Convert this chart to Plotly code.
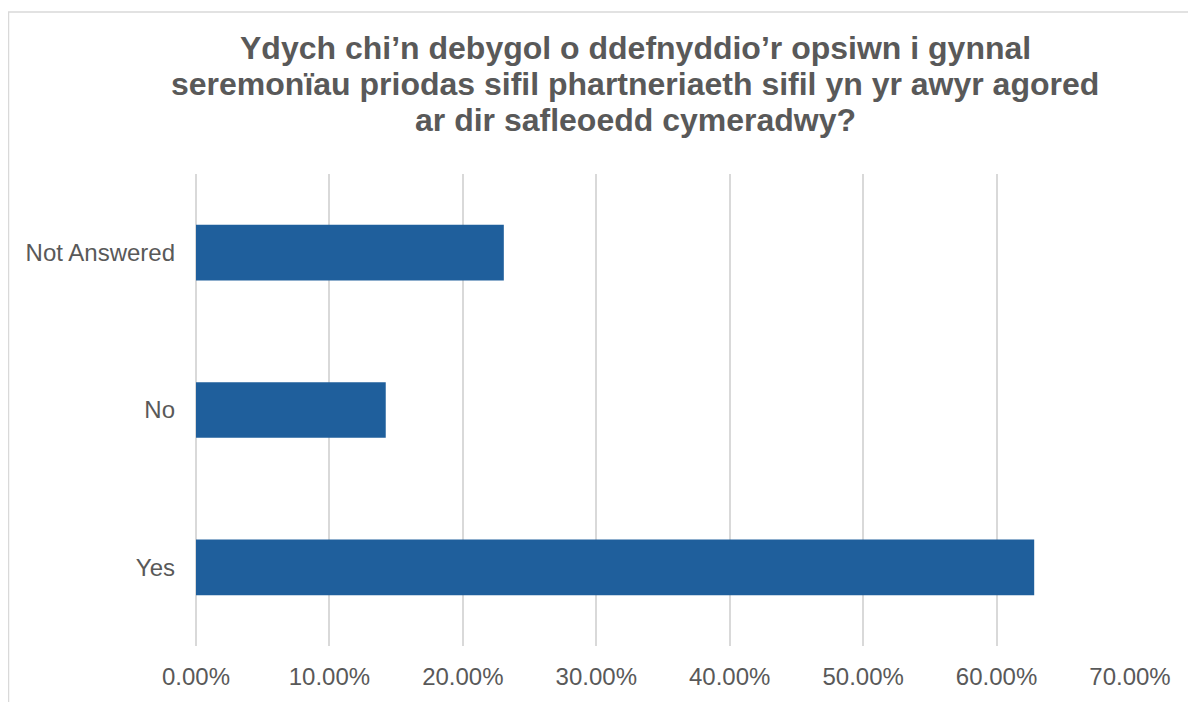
import plotly.graph_objects as go

categories = ["Yes", "No", "Not Answered"]
values = [0.6282, 0.1422, 0.2307]
x_ticks = [0, 0.1, 0.2, 0.3, 0.4, 0.5, 0.6, 0.7]
x_tick_labels = ["0.00%", "10.00%", "20.00%", "30.00%", "40.00%", "50.00%", "60.00%", "70.00%"]
title_lines = [
    "Ydych chi\u2019n debygol o ddefnyddio\u2019r opsiwn i gynnal",
    "seremon\u00efau priodas sifil phartneriaeth sifil yn yr awyr agored",
    "ar dir safleoedd cymeradwy?",
]

# page has an 8px body margin; positions below are in figure pixels
W, H = 1188, 694
L, R, T, B = 188, 1122, 166, 641  # plot area in px

def px_x(px):
    return (px - L) / (R - L)

def px_y(py):
    return (B - py) / (B - T)

fig = go.Figure(go.Bar(
    x=values, y=categories, orientation="h",
    marker=dict(color="#1F5F9C", line=dict(width=0)),
    width=0.354,
))

annotations = []
for i, line in enumerate(title_lines):
    annotations.append(dict(
        text="<b>" + line + "</b>", xref="paper", yref="paper",
        x=px_x(627), y=px_y(39 + i * 36.5),
        xanchor="center", yanchor="middle", showarrow=False,
        font=dict(family="Liberation Sans, Arial", size=32, color="#595959"),
    ))

fig.update_layout(
    width=W, height=H,
    margin=dict(l=L, r=W - R, t=T, b=H - B, pad=0),
    paper_bgcolor="white", plot_bgcolor="white",
    showlegend=False,
    font=dict(family="Liberation Sans, Arial", size=24, color="#595959"),
    annotations=annotations,
    shapes=[dict(
        type="rect", xref="paper", yref="paper",
        x0=px_x(0.5), x1=px_x(1300), y0=px_y(800), y1=px_y(3),
        line=dict(color="#D9D9D9", width=1.5), fillcolor="rgba(0,0,0,0)",
        layer="below",
    )],
)
fig.update_xaxes(
    range=[0, 0.7], tickvals=x_ticks, ticktext=x_tick_labels,
    showgrid=True, gridcolor="#D9D9D9", gridwidth=1.5,
    zeroline=True, zerolinecolor="#D9D9D9", zerolinewidth=1.5,
    showline=False, ticks="", ticklabelstandoff=14,
    tickfont=dict(size=24, color="#595959"),
)
fig.update_yaxes(
    categoryorder="array", categoryarray=categories,
    showgrid=False, zeroline=False, showline=False, ticks="",
    ticklabelstandoff=20,
    tickfont=dict(size=24, color="#595959"),
)

fig.write_html("out.html")
